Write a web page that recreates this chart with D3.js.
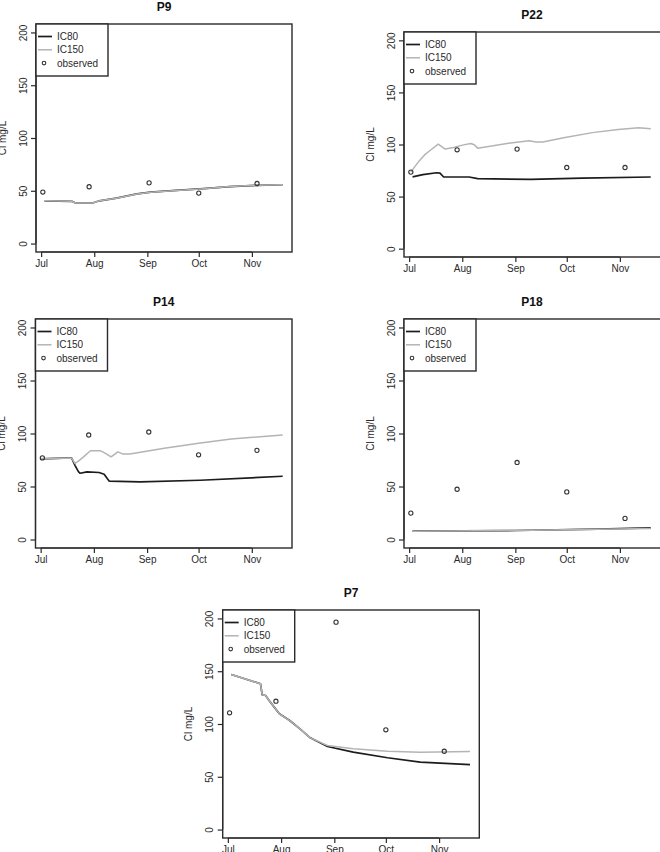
<!DOCTYPE html>
<html>
<head>
<meta charset="utf-8">
<script src="https://cdn.jsdelivr.net/npm/d3@7"></script>
<style>
  html, body { margin: 0; padding: 0; background: #fff; }
  svg { display: block; font-family: "Liberation Sans", Arial, sans-serif; }
</style>
</head>
<body>
<svg id="chart" width="660" height="852"></svg>
<script>
// month ticks and observation dates (2013 season)
const monthLabels = ["Jul", "Aug", "Sep", "Oct", "Nov"];
const monthDates = ["07-01", "08-01", "09-01", "10-01", "11-01"];
const yTicks = [0, 50, 100, 150, 200];
const obsDates = ["07-02", "07-29", "09-02", "10-01", "11-04"];

// observed Cl (mg/L)
const p9Obs = [48.8, 53.8, 57.5, 47.8, 56.9];
const p22Obs = [73.5, 94.9, 95.6, 77.9, 77.9];
const p14Obs = [77, 98.6, 101.4, 79.9, 84.1];
const p18Obs = [24.9, 47.4, 72.7, 44.9, 19.9];
const p7Obs = [110.6, 121.6, 196.5, 94.5, 74.2];

// simulated series [date, value]
const p9IC80 = [["07-03",40.5],["07-19",40],["07-21",38.4],["07-31",38.4],["08-04",40.5],["08-14",43],["08-26",47],["09-03",48.7],["09-18",50.3],["10-04",52],["10-19",54],["11-04",55.2],["11-19",55.7]];
const p9IC150 = [["07-03",40.5],["07-19",40],["07-21",38.4],["07-31",38.4],["08-04",40.5],["08-14",43],["08-26",47],["09-03",48.7],["09-18",50.3],["10-04",52],["10-19",54],["11-04",55.2],["11-19",55.7]];

const p22IC80 = [["07-03",69],["07-09",71],["07-17",72.9],["07-19",72.5],["07-21",69],["08-05",68.8],["08-10",67.2],["09-10",66.5],["10-10",67.8],["11-19",68.8]];
const p22IC150 = [["07-02",73.5],["07-04",78],["07-07",84.5],["07-10",90],["07-13",94],["07-18",100.3],["07-20",98],["07-22",95.6],["07-27",97.2],["08-01",99.4],["08-06",101],["08-08",99.7],["08-10",96.5],["08-19",98.7],["08-28",101.3],["09-09",103.5],["09-13",102.5],["09-17",102.5],["09-30",106.7],["10-16",111.4],["10-31",114.5],["11-12",116.1],["11-19",115.1]];

const p14IC80 = [["07-01",76.1],["07-19",77],["07-21",70],["07-23",64],["07-24",62.5],["07-28",63.8],["08-04",63.2],["08-07",61.6],["08-09",57],["08-10",55],["08-28",54.3],["10-02",55.9],["11-19",59.7]];
const p14IC150 = [["07-01",76.1],["07-19",77],["07-21",71.7],["07-23",74],["07-26",78],["07-30",83.7],["08-05",83.7],["08-08",81],["08-11",78],["08-15",82.7],["08-18",80.6],["08-22",80.6],["09-11",86],["10-01",90.7],["10-20",94.8],["11-19",98.6]];

const p18IC80 = [["07-03",7.9],["09-01",8.5],["10-19",9.8],["11-19",11]];
const p18IC150 = [["07-03",7.9],["09-01",8.5],["10-19",9.8],["11-19",10.5]];

const p7IC80 = [["07-03",146.9],["07-20",138.1],["07-21",127.7],["07-23",127],["07-25",122.3],["07-28",116],["07-31",109.7],["08-06",103.3],["08-12",95.4],["08-18",86.9],["08-28",78.7],["09-12",73.3],["10-02",68],["10-21",63.8],["11-19",61.6]];
const p7IC150 = [["07-03",146.9],["07-20",138.1],["07-21",127.7],["07-23",127],["07-25",122.3],["07-28",116],["07-31",109.7],["08-06",103.3],["08-12",95.4],["08-18",86.9],["08-28",79.6],["09-12",76.5],["10-02",74.2],["10-21",73.3],["11-19",73.9]];

const parse = s => d3.timeParse("%Y-%m-%d")("2013-" + s);

const panels = [
  { title: "P9",  x0: 36,    x1: 292, y0: 24,  y1: 252, obs: p9Obs,  ic80: p9IC80,  ic150: p9IC150 },
  { title: "P22", x0: 404,   x1: 660, y0: 32,  y1: 257, obs: p22Obs, ic80: p22IC80, ic150: p22IC150 },
  { title: "P14", x0: 35.5,  x1: 292, y0: 319, y1: 548, obs: p14Obs, ic80: p14IC80, ic150: p14IC150 },
  { title: "P18", x0: 404,   x1: 660, y0: 319, y1: 548, obs: p18Obs, ic80: p18IC80, ic150: p18IC150 },
  { title: "P7",  x0: 222.7, x1: 479.3, y0: 610, y1: 838, obs: p7Obs, ic80: p7IC80, ic150: p7IC150 }
];

const svg = d3.select("#chart");
const ink = "#2a2a2a";

panels.forEach(p => {
  const g = svg.append("g");

  const x = d3.scaleTime()
    .domain([new Date(2013, 5, 28), new Date(2013, 10, 24, 10)])
    .range([p.x0, p.x1]);
  const y = d3.scaleLinear().domain([-8, 208]).range([p.y1, p.y0]);

  // x axis
  const xAxis = g.append("g")
    .attr("transform", `translate(0,${p.y1})`)
    .call(d3.axisBottom(x)
      .tickValues(monthDates.map(parse))
      .tickFormat((d, i) => monthLabels[i])
      .tickSize(5).tickPadding(3));
  xAxis.select(".domain").attr("d", `M${x(parse(monthDates[0]))},0H${x(parse(monthDates[4]))}`);

  // y axis
  const yAxis = g.append("g")
    .attr("transform", `translate(${p.x0},0)`)
    .call(d3.axisLeft(y).tickValues(yTicks).tickSize(5));
  yAxis.select(".domain").attr("d", `M0,${y(0)}V${y(200)}`);
  yAxis.selectAll(".tick text")
    .attr("x", null).attr("dy", null)
    .attr("text-anchor", "middle")
    .attr("transform", "translate(-13,0) rotate(-90) translate(0,3.5)");

  g.selectAll(".domain, .tick line").attr("stroke", ink).attr("stroke-width", 1.2);
  g.selectAll(".tick text").attr("fill", ink).style("font-size", "10px")
    .style("font-family", "'Liberation Sans', Arial, sans-serif");

  // frame
  g.append("rect")
    .attr("x", p.x0).attr("y", p.y0)
    .attr("width", (p.x1 === 660 ? 661 : p.x1) - p.x0).attr("height", p.y1 - p.y0)
    .attr("fill", "none").attr("stroke", ink).attr("stroke-width", 1.4);

  // title & y label
  g.append("text")
    .attr("x", (p.x0 + p.x1) / 2).attr("y", p.y0 - 13)
    .attr("text-anchor", "middle")
    .attr("font-weight", "bold").attr("font-size", 12).attr("fill", "#111")
    .text(p.title);
  g.append("text")
    .attr("transform", `translate(${p.x0 - 34},${(p.y0 + p.y1) / 2}) rotate(-90)`)
    .attr("dy", "0.35em")
    .attr("text-anchor", "middle").attr("font-size", 10).attr("fill", ink)
    .text("Cl mg/L");

  const line = d3.line().x(d => x(parse(d[0]))).y(d => y(d[1]));

  g.append("path").datum(p.ic80).attr("d", line)
    .attr("fill", "none").attr("stroke", "#1c1c1c").attr("stroke-width", 1.7)
    .attr("stroke-linejoin", "round");
  g.append("path").datum(p.ic150).attr("d", line)
    .attr("fill", "none").attr("stroke", "#b4b4b4").attr("stroke-width", 1.5)
    .attr("stroke-linejoin", "round");

  g.selectAll("circle.obs").data(p.obs).join("circle")
    .attr("class", "obs")
    .attr("cx", (d, i) => x(parse(obsDates[i])))
    .attr("cy", d => y(d))
    .attr("r", 2.1)
    .attr("fill", "none").attr("stroke", "#333").attr("stroke-width", 1.1);

  // legend
  const lg = g.append("g").attr("transform", `translate(${p.x0},${p.y0})`);
  lg.append("rect").attr("width", 72).attr("height", 52)
    .attr("fill", "#fff").attr("stroke", ink).attr("stroke-width", 1.4);
  const items = [
    { label: "IC80", color: "#1c1c1c", w: 1.7 },
    { label: "IC150", color: "#b4b4b4", w: 1.5 },
    { label: "observed" }
  ];
  items.forEach((it, i) => {
    const cy = 12.5 + i * 13.3;
    if (it.color) {
      lg.append("line").attr("x1", 2).attr("x2", 16).attr("y1", cy).attr("y2", cy)
        .attr("stroke", it.color).attr("stroke-width", it.w);
    } else {
      lg.append("circle").attr("cx", 8).attr("cy", cy).attr("r", 1.8)
        .attr("fill", "none").attr("stroke", "#333").attr("stroke-width", 1.1);
    }
    lg.append("text").attr("x", 21).attr("y", cy).attr("dy", "0.35em")
      .attr("font-size", 10).attr("fill", ink).text(it.label);
  });
});
</script>
</body>
</html>
